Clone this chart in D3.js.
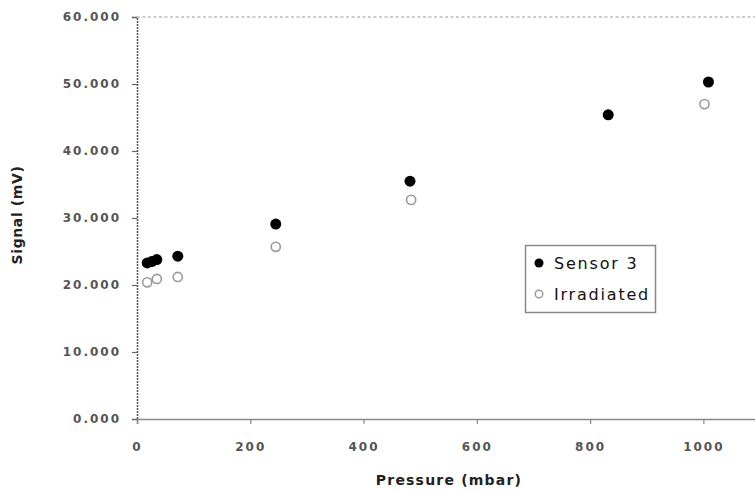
<!DOCTYPE html>
<html>
<head>
<meta charset="utf-8">
<script src="https://cdn.jsdelivr.net/npm/d3@7"></script>
<style>
  body { margin: 0; background: #fff; }
  svg { display: block; }
  .tick text { font-family: "DejaVu Sans", sans-serif; font-size: 12px; font-weight: bold; fill: #555; letter-spacing: 2px; }
</style>
</head>
<body>
<svg id="chart" width="755" height="491"></svg>
<script>
// pressure (mbar) / signal (thousand mV)
const sensorP = [18, 26, 35, 72, 245, 482, 832, 1009];
const sensorV = [23.3, 23.5, 23.8, 24.3, 29.1, 35.5, 45.4, 50.3];
const irradP = [18, 35, 72, 245, 484, 1002];
const irradV = [20.4, 20.9, 21.2, 25.7, 32.7, 47.0];
const xTicks = [0, 200, 400, 600, 800, 1000];
const yTicks = [0, 10, 20, 30, 40, 50, 60];

const svg = d3.select("#chart");

const x = d3.scaleLinear().domain([0, 1100]).range([137, 760]);
const y = d3.scaleLinear().domain([0, 60]).range([419, 17]);

// top dashed line
svg.append("line")
  .attr("x1", x(0)).attr("x2", 755)
  .attr("y1", y(60)).attr("y2", y(60))
  .attr("stroke", "#999").attr("stroke-width", 1.2)
  .attr("stroke-dasharray", "3,2.5");

// y axis
const yAxisG = svg.append("g")
  .attr("transform", `translate(${x(0)},0)`)
  .call(d3.axisLeft(y).tickValues(yTicks).tickFormat(d3.format(".3f")).tickSize(5).tickPadding(11));
yAxisG.select(".domain").attr("stroke", "#555").attr("stroke-width", 1.5).attr("stroke-dasharray", "2,1");
yAxisG.selectAll(".tick line").attr("stroke", "#666").attr("stroke-width", 1.2);

// x axis
const xAxisG = svg.append("g")
  .attr("transform", `translate(0,${y(0)})`)
  .call(d3.axisBottom(x).tickValues(xTicks).tickFormat(d3.format("d")).tickSize(5).tickPadding(18));
xAxisG.select(".domain").attr("stroke", "#888").attr("stroke-width", 1.5);
xAxisG.selectAll(".tick line").attr("stroke", "#888").attr("stroke-width", 1.2);

// axis titles
svg.append("text")
  .attr("x", 449).attr("y", 485)
  .attr("text-anchor", "middle")
  .attr("font-family", "DejaVu Sans, sans-serif")
  .attr("font-weight", "bold").attr("font-size", 14)
  .attr("letter-spacing", 1.2)
  .attr("fill", "#222")
  .text("Pressure (mbar)");

svg.append("text")
  .attr("transform", "translate(22,215) rotate(-90)")
  .attr("text-anchor", "middle")
  .attr("font-family", "DejaVu Sans, sans-serif")
  .attr("font-weight", "bold").attr("font-size", 14)
  .attr("letter-spacing", 0.6)
  .attr("fill", "#222")
  .text("Signal (mV)");

// points
const irrad = irradP.map((p, i) => ({ p: p, v: irradV[i] }));
const sensor = sensorP.map((p, i) => ({ p: p, v: sensorV[i] }));

svg.append("g").selectAll("circle")
  .data(irrad).enter().append("circle")
  .attr("cx", d => x(d.p)).attr("cy", d => y(d.v))
  .attr("r", 4.6)
  .attr("fill", "#fff").attr("stroke", "#999").attr("stroke-width", 1.6);

svg.append("g").selectAll("circle")
  .data(sensor).enter().append("circle")
  .attr("cx", d => x(d.p)).attr("cy", d => y(d.v))
  .attr("r", 5.5)
  .attr("fill", "#000");

// legend
const lg = svg.append("g");
lg.append("rect")
  .attr("x", 525.5).attr("y", 245.5).attr("width", 130).attr("height", 67)
  .attr("fill", "#fff").attr("stroke", "#888").attr("stroke-width", 1.5);
lg.append("circle").attr("cx", 539).attr("cy", 263).attr("r", 4.5).attr("fill", "#000");
lg.append("circle").attr("cx", 539).attr("cy", 294).attr("r", 3.8)
  .attr("fill", "#fff").attr("stroke", "#999").attr("stroke-width", 1.4);
const legendNames = ["Sensor 3", "Irradiated"];
lg.selectAll("text.leg").data(legendNames).enter().append("text")
  .attr("class", "leg")
  .attr("x", 554).attr("y", (d, i) => 269 + i * 31)
  .attr("font-family", "DejaVu Sans, sans-serif")
  .attr("font-size", 16).attr("letter-spacing", 1.8)
  .attr("fill", "#111")
  .text(d => d);
</script>
</body>
</html>
